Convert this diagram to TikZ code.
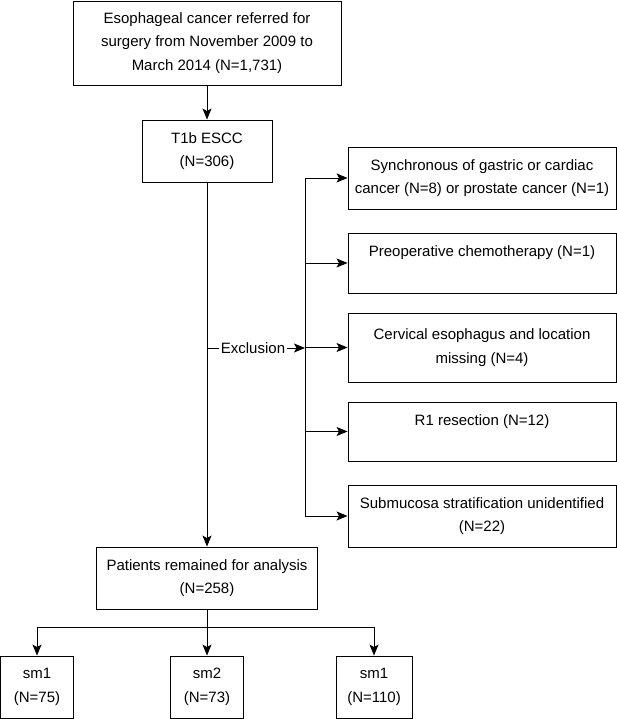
\documentclass[tikz,border=0pt]{standalone}
\usepackage{fontspec}
\setmainfont{Liberation Sans}
\usetikzlibrary{arrows.meta}

\tikzset{
  box/.style={draw, line width=0.9pt, align=center, inner sep=0pt, font=\fontsize{15}{23.5}\selectfont},
  arr/.style={-{Stealth[length=11pt,width=9pt,inset=2.5pt]}, line width=0.9pt},
  link/.style={line width=0.9pt},
}

\begin{document}
\begin{tikzpicture}[x=1pt,y=-1pt]
\useasboundingbox (0,0) rectangle (617,719);

\node[box, minimum width=268pt, minimum height=84pt] (referred) at (207,43) {Esophageal cancer referred for\\surgery from November 2009 to\\March 2014 (N=1,731)};
\node[box, minimum width=130pt, minimum height=62pt] (escc) at (207,151) {T1b ESCC\\(N=306)};

\node[box, minimum width=268pt, minimum height=62pt] (sync) at (482,178) {Synchronous of gastric or cardiac\\cancer (N=8) or prostate cancer (N=1)};
\node[box, minimum width=268pt, minimum height=60pt] (preop) at (482,263) {Preoperative chemotherapy (N=1)\\\phantom{X}};
\node[box, minimum width=268pt, minimum height=69pt] (cervical) at (482,347.5) {Cervical esophagus and location\\missing (N=4)};
\node[box, minimum width=268pt, minimum height=59pt] (resect) at (482,431.5) {R1 resection (N=12)\\\phantom{X}};
\node[box, minimum width=268pt, minimum height=62pt] (submuc) at (482,516) {Submucosa stratification unidentified\\(N=22)};

\node[box, draw=none, fill=white, inner sep=1pt] (excl) at (253,348) {Exclusion};
\coordinate (brk) at (305,348);

\node[box, minimum width=221pt, minimum height=62pt] (remained) at (207,578) {Patients remained for analysis\\(N=258)};

\coordinate (split) at (207,627);
\node[box, minimum width=73pt, minimum height=62pt] (smA) at (37,687) {sm1\\(N=75)};
\node[box, minimum width=73pt, minimum height=62pt] (smB) at (207,687) {sm2\\(N=73)};
\node[box, minimum width=76pt, minimum height=62pt] (smC) at (374,687) {sm1\\(N=110)};

\draw[arr] (referred.south) -- (escc.north);
\draw[arr] (escc.south) -- (remained.north);
\draw[link] (escc.south |- excl) -- (excl.west);
\draw[arr] (excl.east) -- (brk);
\draw[link] (brk |- sync.west) -- (brk |- submuc.west);
\foreach \b in {sync,preop,cervical,resect,submuc}
  \draw[arr] (brk |- \b.west) -- (\b.west);

\draw[link] (remained.south) -- (split);
\draw[link] (split -| smA.north) -- (split -| smC.north);
\foreach \s in {smA,smB,smC}
  \draw[arr] (split -| \s.north) -- (\s.north);
\end{tikzpicture}
\end{document}
